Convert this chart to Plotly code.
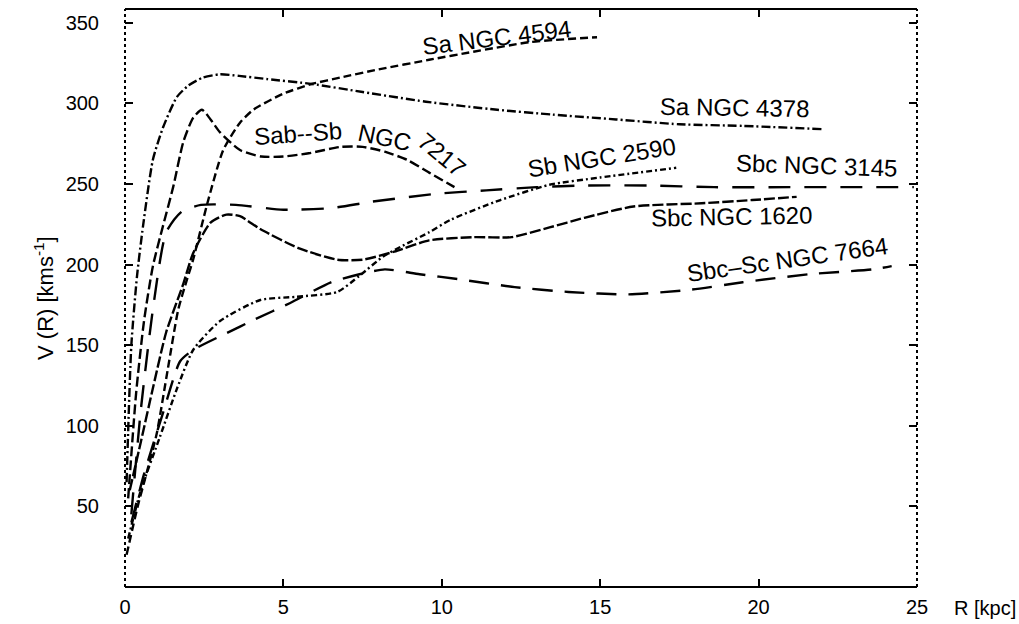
import plotly.graph_objects as go

# ---- data ----
x_4378 = [0.05, 0.2, 0.38, 0.57, 0.88, 1.2, 1.64, 2.0, 2.46, 3.0, 3.6, 4.5, 5.9, 7.5, 9.5, 11.75, 13.5, 15.5, 17.5, 19.5, 22.0]
y_4378 = [65, 150, 193, 224, 265, 285, 304, 311, 316, 318, 317, 315, 312, 307, 301, 296, 293, 290, 287, 286, 284]

x_4594 = [0.05, 0.4, 0.7, 1.0, 1.35, 1.68, 1.96, 2.15, 2.6, 3.1, 3.63, 4.05, 5.0, 5.9, 6.8, 8.0, 9.6, 11.0, 12.8, 14.9]
y_4594 = [20, 50, 72, 95, 135, 172, 191, 203, 238, 271, 288, 296, 306, 312, 316, 321, 327, 332, 338, 341]

x_7217 = [0.1, 0.35, 0.6, 0.88, 1.2, 1.52, 1.84, 2.15, 2.43, 2.7, 3.0, 3.63, 4.3, 5.0, 5.8, 6.8, 7.5, 8.2, 8.9, 9.6, 10.4]
y_7217 = [55, 120, 165, 199, 224, 248, 276, 291, 296, 290, 282, 271, 267, 267, 269, 273, 273, 270, 265, 257, 248]

x_3145 = [0.2, 0.5, 0.9, 1.3, 1.8, 2.4, 3.5, 5.0, 6.5, 7.8, 9.9, 11.4, 13.0, 14.5, 16.5, 18.6, 21.0, 23.0, 24.9]
y_3145 = [45, 110, 175, 220, 233, 237, 237, 234, 235, 239, 244, 246, 248, 249, 249, 248, 248, 248, 248]

x_2590 = [0.1, 0.5, 1.1, 1.64, 2.15, 3.0, 4.27, 5.4, 6.7, 7.4, 8.15, 8.7, 9.6, 10.3, 11.85, 13.4, 15.0, 17.4]
y_2590 = [30, 60, 93, 123, 147, 165, 178, 180, 183, 193, 205, 211, 220, 228, 240, 249.5, 254, 260]

x_1620 = [0.15, 0.5, 0.9, 1.3, 1.84, 2.15, 2.7, 3.2, 3.63, 4.27, 5.5, 6.7, 7.5, 8.5, 9.6, 11.0, 12.2, 13.4, 14.5, 16.05, 18.2, 19.8, 21.2]
y_1620 = [60, 90, 125, 158, 188, 207, 226, 231, 230, 222, 210, 203, 203, 208, 215, 217, 217, 223, 229, 236, 238, 240, 242]

x_7664 = [0.2, 0.6, 1.2, 1.74, 2.15, 3.16, 4.1, 5.2, 6.5, 7.4, 8.2, 9.3, 10.5, 12.3, 14.0, 15.9, 17.9, 19.5, 21.6, 23.6, 24.2]
y_7664 = [40, 70, 108, 140, 147, 157, 166, 176, 189, 194, 197, 194, 191, 186, 183, 181.5, 184.5, 189, 194, 197, 199]

x_ticks = [0, 5, 10, 15, 20, 25]
y_ticks = [50, 100, 150, 200, 250, 300, 350]

series = [
    ("Sa NGC 4378", x_4378, y_4378, "9px,3px,2px,3px"),
    ("Sa NGC 4594", x_4594, y_4594, "8px,4px"),
    ("Sab-Sb NGC 7217", x_7217, y_7217, "10px,4px"),
    ("Sbc NGC 3145", x_3145, y_3145, "22px,14px"),
    ("Sb NGC 2590", x_2590, y_2590, "6px,3px,2px,3px"),
    ("Sbc NGC 1620", x_1620, y_1620, "11px,3px"),
    ("Sbc-Sc NGC 7664", x_7664, y_7664, "20px,12px"),
]

labels = [
    ("Sa NGC 4594", 11.74, 340.8, -7),
    ("Sa NGC 4378", 19.25, 297.4, 1),
    ("Sab--Sb", 5.45, 281.5, -4),
    ("NGC", 8.2, 279.0, 12),
    ("7217", 10.0, 268.0, 40),
    ("Sb NGC 2590", 15.03, 266.4, -9),
    ("Sbc NGC 3145", 21.84, 261.5, 2),
    ("Sbc NGC 1620", 19.16, 229.9, -1),
    ("Sbc\u2013Sc NGC 7664", 20.9, 203.2, -8),
]

FONT = "Liberation Sans, Arial, sans-serif"

fig = go.Figure()
for name, xs, ys, dash in series:
    fig.add_trace(go.Scatter(
        x=xs, y=ys, mode="lines", name=name,
        line=dict(color="black", width=2.4, dash=dash, shape="spline", smoothing=0.6),
        showlegend=False, hoverinfo="skip",
    ))

for text, lx, ly, ang in labels:
    fig.add_annotation(x=lx, y=ly, xref="x", yref="y", text=text, showarrow=False,
                       textangle=ang, font=dict(family=FONT, size=24, color="black"))

fig.add_annotation(x=-0.1225, y=0.5, xref="paper", yref="paper",
                   text="V (R) [kms<sup>-1</sup>]", textangle=-90, showarrow=False,
                   font=dict(family=FONT, size=22, color="black"))
fig.add_annotation(x=1.128, y=-0.058, xref="paper", yref="paper",
                   text="R [kpc]", showarrow=False,
                   font=dict(family=FONT, size=20, color="black"))

# frame
fig.add_shape(type="line", xref="paper", yref="paper", x0=0, x1=0, y0=0, y1=1,
              line=dict(color="black", width=2, dash="dot"))
fig.add_shape(type="line", xref="paper", yref="paper", x0=1, x1=1, y0=0, y1=1,
              line=dict(color="black", width=2, dash="dot"))
fig.add_shape(type="line", xref="paper", yref="paper", x0=0, x1=1, y0=1, y1=1,
              line=dict(color="black", width=1.8))
fig.add_shape(type="line", xref="paper", yref="paper", x0=0, x1=1, y0=0, y1=0,
              line=dict(color="black", width=2.2))

fig.update_xaxes(range=[0, 25], tickvals=x_ticks, ticktext=[str(v) for v in x_ticks],
                 ticks="inside", ticklen=8, tickwidth=1.6, tickcolor="black",
                 showline=True, linecolor="rgba(0,0,0,0)", mirror="ticks",
                 showgrid=False, zeroline=False, ticklabelstandoff=2, automargin=False,
                 tickfont=dict(family=FONT, size=20, color="black"))
fig.update_yaxes(range=[0, 358.5], tickvals=y_ticks, ticktext=[str(v) for v in y_ticks],
                 ticks="inside", ticklen=8, tickwidth=1.6, tickcolor="black",
                 showline=True, linecolor="rgba(0,0,0,0)", mirror="ticks",
                 showgrid=False, zeroline=False, ticklabelstandoff=21, automargin=False,
                 tickfont=dict(family=FONT, size=20, color="black"))

fig.update_layout(width=1019, height=624, margin=dict(l=125, r=102, t=9, b=37, autoexpand=False),
                  plot_bgcolor="white", paper_bgcolor="white", showlegend=False)

fig.write_html("out.html", config={"displayModeBar": False},
               post_script="document.body.style.margin='0px';document.body.style.overflow='hidden';")
